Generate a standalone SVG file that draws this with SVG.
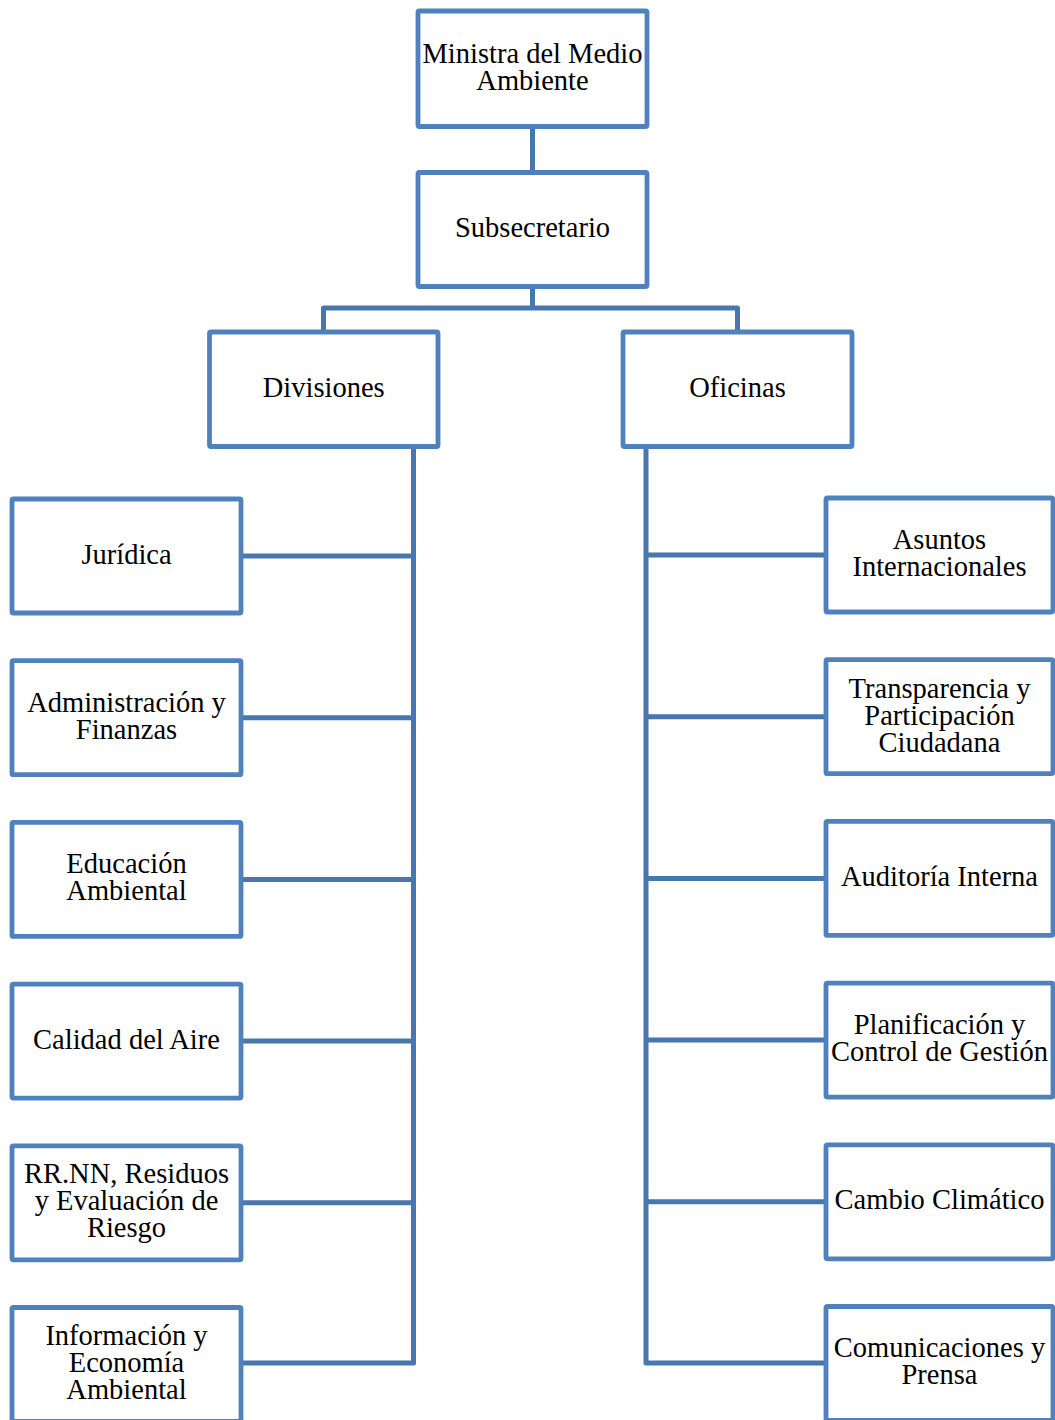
<svg xmlns="http://www.w3.org/2000/svg" width="1055" height="1420" viewBox="0 0 1055 1420">
  <style>
    .box { fill: #ffffff; stroke: #4F81BD; stroke-width: 4.8; stroke-linejoin: round; }
    .link { fill: none; stroke: #4876AE; stroke-width: 5; stroke-linejoin: round; stroke-linecap: butt; }
    .lbl { font-family: "Liberation Serif", "Times New Roman", serif; font-size: 28.5px; fill: #000000; text-anchor: middle; }
  </style>
  <rect width="1055" height="1420" fill="#ffffff"/>

  <!-- connectors -->
  <g id="connectors">
    <path class="link" d="M532.5 126.5 V172.5"/>
    <path class="link" d="M532.5 286.5 V308 M323.5 332 V308 H737.5 V332"/>
    <!-- Divisiones trunk and branches -->
    <path class="link" d="M413.5 446.5 V1363 H241"/>
    <path class="link" d="M241 556 H413.5 M241 717.7 H413.5 M241 879.4 H413.5 M241 1041.1 H413.5 M241 1202.8 H413.5"/>
    <!-- Oficinas trunk and branches -->
    <path class="link" d="M646 446.5 V1363 H826"/>
    <path class="link" d="M646 555 H826 M646 716.7 H826 M646 878.4 H826 M646 1040.1 H826 M646 1201.8 H826"/>
  </g>

  <!-- top levels -->
  <g id="ministra">
    <rect class="box" x="418" y="11" width="229" height="115.5" rx="1.5"/>
    <text class="lbl" x="532.5" y="62.5">Ministra del Medio</text>
    <text class="lbl" x="532.5" y="89.5">Ambiente</text>
  </g>
  <g id="subsecretario">
    <rect class="box" x="418" y="172.5" width="229" height="114" rx="1.5"/>
    <text class="lbl" x="532.5" y="237">Subsecretario</text>
  </g>
  <g id="divisiones">
    <rect class="box" x="209.5" y="332" width="228.5" height="114.5" rx="1.5"/>
    <text class="lbl" x="323.75" y="396.75">Divisiones</text>
  </g>
  <g id="oficinas">
    <rect class="box" x="623" y="332" width="229" height="114.5" rx="1.5"/>
    <text class="lbl" x="737.5" y="396.75">Oficinas</text>
  </g>

  <!-- divisions (left column) -->
  <g id="juridica">
    <rect class="box" x="12" y="499" width="229" height="114" rx="1.5"/>
    <text class="lbl" x="126.5" y="563.5">Jurídica</text>
  </g>
  <g id="administracion">
    <rect class="box" x="12" y="660.7" width="229" height="114" rx="1.5"/>
    <text class="lbl" x="126.5" y="711.7">Administración y</text>
    <text class="lbl" x="126.5" y="738.7">Finanzas</text>
  </g>
  <g id="educacion">
    <rect class="box" x="12" y="822.4" width="229" height="114" rx="1.5"/>
    <text class="lbl" x="126.5" y="873.4">Educación</text>
    <text class="lbl" x="126.5" y="900.4">Ambiental</text>
  </g>
  <g id="calidad-aire">
    <rect class="box" x="12" y="984.1" width="229" height="114" rx="1.5"/>
    <text class="lbl" x="126.5" y="1048.6">Calidad del Aire</text>
  </g>
  <g id="rrnn-residuos">
    <rect class="box" x="12" y="1145.8" width="229" height="114" rx="1.5"/>
    <text class="lbl" x="126.5" y="1183.3">RR.NN, Residuos</text>
    <text class="lbl" x="126.5" y="1210.3">y Evaluación de</text>
    <text class="lbl" x="126.5" y="1237.3">Riesgo</text>
  </g>
  <g id="informacion">
    <rect class="box" x="12" y="1307.5" width="229" height="114" rx="1.5"/>
    <text class="lbl" x="126.5" y="1344.5">Información y</text>
    <text class="lbl" x="126.5" y="1371.5">Economía</text>
    <text class="lbl" x="126.5" y="1398.5">Ambiental</text>
  </g>

  <!-- offices (right column) -->
  <g id="asuntos-internacionales">
    <rect class="box" x="826" y="498" width="227" height="114" rx="1.5"/>
    <text class="lbl" x="939.5" y="549">Asuntos</text>
    <text class="lbl" x="939.5" y="576">Internacionales</text>
  </g>
  <g id="transparencia">
    <rect class="box" x="826" y="659.7" width="227" height="114" rx="1.5"/>
    <text class="lbl" x="939.5" y="697.7">Transparencia y</text>
    <text class="lbl" x="939.5" y="724.7">Participación</text>
    <text class="lbl" x="939.5" y="751.7">Ciudadana</text>
  </g>
  <g id="auditoria">
    <rect class="box" x="826" y="821.4" width="227" height="114" rx="1.5"/>
    <text class="lbl" x="939.5" y="885.9">Auditoría Interna</text>
  </g>
  <g id="planificacion">
    <rect class="box" x="826" y="983.1" width="227" height="114" rx="1.5"/>
    <text class="lbl" x="939.5" y="1034.1">Planificación y</text>
    <text class="lbl" x="939.5" y="1061.1">Control de Gestión</text>
  </g>
  <g id="cambio-climatico">
    <rect class="box" x="826" y="1144.8" width="227" height="114" rx="1.5"/>
    <text class="lbl" x="939.5" y="1209.3">Cambio Climático</text>
  </g>
  <g id="comunicaciones">
    <rect class="box" x="826" y="1306.5" width="227" height="114" rx="1.5"/>
    <text class="lbl" x="939.5" y="1356.5">Comunicaciones y</text>
    <text class="lbl" x="939.5" y="1383.5">Prensa</text>
  </g>
</svg>
